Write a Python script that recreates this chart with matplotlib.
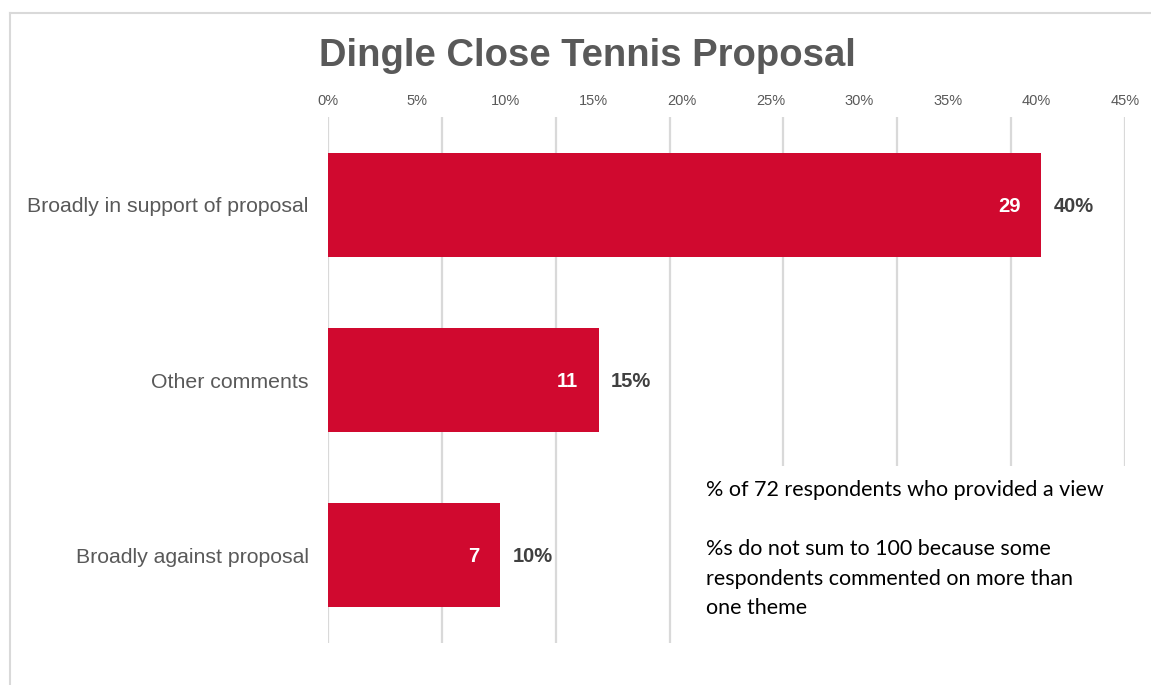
import matplotlib.pyplot as plt
from matplotlib.patches import Rectangle
from matplotlib.lines import Line2D
from matplotlib.ticker import PercentFormatter

# survey data
categories = ['Broadly in support of proposal', 'Other comments', 'Broadly against proposal']
counts = [29, 11, 7]
total_respondents = 72
shares = [c / total_respondents * 100 for c in counts]

bar_color = '#D0092F'
grid_color = '#D9D9D9'

W, H = 1151, 685
fig = plt.figure(figsize=(W / 100, H / 100), dpi=100)
plt.rcParams['font.family'] = ['Liberation Sans', 'DejaVu Sans']

# plot area (pixel geometry converted to figure fractions)
left, right, top, bottom = 328, 1125, 117, 643
ax = fig.add_axes([left / W, 1 - bottom / H, (right - left) / W, (bottom - top) / H])

# the vertical gridlines come from the secondary count axis (0-35)
ax2 = ax.twiny()
ax2.set_xlim(0, 35)
ax2.set_xticks(range(0, 36, 5))
ax2.grid(axis='x', color=grid_color, linewidth=1.6)
ax2.tick_params(axis='x', length=0, labeltop=False, labelbottom=False)
ax2.set_zorder(0)
ax.set_zorder(1)
ax.patch.set_visible(False)

y = list(range(len(categories)))
bars = ax.barh(y, shares, height=0.595, color=bar_color, zorder=2)

ax.set_xlim(0, 45)
ax.set_ylim(len(categories) - 0.5, -0.5)
ax.set_xticks(range(0, 46, 5))
ax.xaxis.set_major_formatter(PercentFormatter(decimals=0))
ax.xaxis.tick_top()
ax.tick_params(axis='x', length=0, pad=6.5, labelsize=10.5, labelcolor='#595959')
ax.set_yticks(y)
ax.set_yticklabels(categories)
ax.tick_params(axis='y', length=0, pad=14, labelsize=15.3, labelcolor='#595959')
for a in (ax, ax2):
    for s in a.spines.values():
        s.set_visible(False)

# counts inside bar ends, shares just outside
for yi, c, v in zip(y, counts, shares):
    ax.annotate(str(c), (v, yi), xytext=(-15, -1), textcoords='offset points',
                ha='right', va='center', color='white', fontsize=14.5, fontweight='bold')
    ax.annotate(f'{v:.0f}%', (v, yi), xytext=(9, -1), textcoords='offset points',
                ha='left', va='center', color='#404040', fontsize=14.5, fontweight='bold')

fig.text(587 / W, 1 - 56 / H, 'Dingle Close Tennis Proposal', ha='center', va='center',
         fontsize=27.5, fontweight='bold', color='#595959')

# white note box sitting over the gridlines
fig.patches.append(Rectangle((683 / W, 1 - 645 / H), 1 - 683 / W, (645 - 466) / H,
                             transform=fig.transFigure, facecolor='white',
                             edgecolor='none', zorder=3))
note = ('% of 72 respondents who provided a view\n\n'
        '%s do not sum to 100 because some\n'
        'respondents commented on more than\n'
        'one theme')
fig.text(706 / W, 1 - 480 / H, note, ha='left', va='top', fontsize=15.5,
         family=['Lato', 'DejaVu Sans'], color='#000000', linespacing=1.6, zorder=4)

# outer chart frame
fig.add_artist(Line2D([10 / W, 1], [1 - 13 / H, 1 - 13 / H], color=grid_color, linewidth=1.5))
fig.add_artist(Line2D([10 / W, 10 / W], [0, 1 - 13 / H], color=grid_color, linewidth=1.5))

fig.savefig('out.png', dpi=100, facecolor='white')
